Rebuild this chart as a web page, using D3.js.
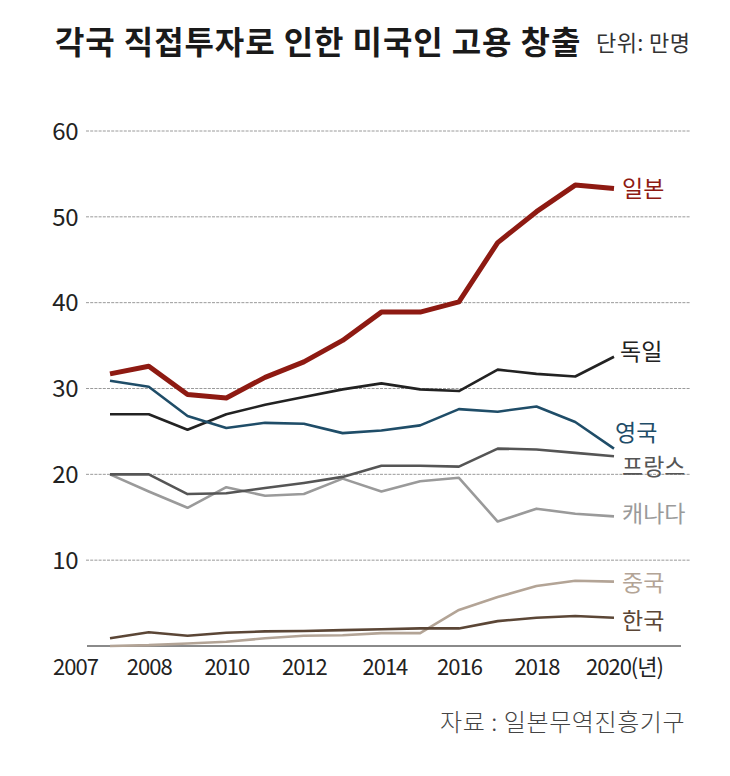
<!DOCTYPE html>
<html><head><meta charset="utf-8">
<script src="https://cdn.jsdelivr.net/npm/d3@7"></script>
<style>
body{margin:0;background:#fff;}
svg{display:block;font-family:"Noto Sans CJK KR","Noto Sans",sans-serif;}
</style></head>
<body>
<svg id="c" width="730" height="776"></svg>
<script>
const years = [2007,2008,2009,2010,2011,2012,2013,2014,2015,2016,2017,2018,2019,2020];
const japan   = [31.7,32.6,29.3,28.9,31.3,33.1,35.6,38.9,38.9,40.1,47.0,50.6,53.7,53.3];
const germany = [27.0,27.0,25.2,27.0,28.1,29.0,29.9,30.6,29.9,29.7,32.2,31.7,31.4,33.7];
const uk      = [30.9,30.2,26.8,25.4,26.0,25.9,24.8,25.1,25.7,27.6,27.3,27.9,26.1,23.0];
const france  = [20.0,20.0,17.7,17.8,18.4,19.0,19.7,21.0,21.0,20.9,23.0,22.9,22.5,22.1];
const canada  = [20.0,18.0,16.1,18.5,17.5,17.7,19.5,18.0,19.2,19.6,14.5,16.0,15.4,15.1];
const china   = [0.0,0.1,0.3,0.5,0.9,1.2,1.25,1.5,1.5,4.2,5.7,7.0,7.6,7.5];
const korea   = [0.9,1.6,1.2,1.55,1.7,1.75,1.85,1.95,2.05,2.05,2.9,3.3,3.5,3.3];
const seriesNames = ["일본","독일","영국","프랑스","캐나다","중국","한국"];
const yTicks = [10,20,30,40,50,60];
const xTicks = [2007,2008,2010,2012,2014,2016,2018,2020];
const titleText = "각국 직접투자로 인한 미국인 고용 창출";
const unitText = "단위: 만명";
const sourceText = "자료 : 일본무역진흥기구";

const series = [
  {name:seriesNames[0], values:japan,   color:"#8e1a12", width:5,   label:{dy:0,  dx:8}},
  {name:seriesNames[1], values:germany, color:"#222222", width:2.6, label:{dy:-5, dx:6}},
  {name:seriesNames[2], values:uk,      color:"#1f4d68", width:2.6, label:{dy:-16,dx:1}},
  {name:seriesNames[3], values:france,  color:"#555555", width:2.6, label:{dy:10, dx:8}},
  {name:seriesNames[4], values:canada,  color:"#9a9a9a", width:2.6, label:{dy:-3, dx:8}},
  {name:seriesNames[5], values:china,   color:"#b3a496", width:2.6, label:{dy:1,  dx:8}},
  {name:seriesNames[6], values:korea,   color:"#5b4636", width:2.6, label:{dy:3,  dx:8}}
];

const svg = d3.select("#c");
const x = d3.scaleLinear().domain([2007,2020]).range([110,614]);
const y = d3.scaleLinear().domain([0,60]).range([646,131]);

// title
svg.append("text").attr("x",55).attr("y",54).attr("font-size",32).attr("font-weight",700)
  .attr("fill","#1a1a1a").attr("letter-spacing",0.9).text(titleText);
svg.append("text").attr("x",596).attr("y",51).attr("font-size",22).attr("fill","#333")
  .attr("letter-spacing",0.4).text(unitText);

// grid lines
svg.append("g").selectAll("line").data(yTicks).join("line")
  .attr("x1",86).attr("x2",690).attr("y1",d=>y(d)).attr("y2",d=>y(d))
  .attr("stroke","#9a9a9a").attr("stroke-width",1).attr("stroke-dasharray","3,1.2");

// y axis labels
const yAxis = d3.axisLeft(y).tickValues(yTicks).tickSize(0).tickPadding(0);
const gy = svg.append("g").attr("transform","translate(78,0)").call(yAxis);
gy.select(".domain").remove();
gy.selectAll("text").attr("font-size",24).attr("fill","#222")
  .attr("font-family","'Noto Sans CJK KR',sans-serif").attr("letter-spacing",-0.5).attr("dy","0.34em");

// baseline
svg.append("line").attr("x1",87).attr("x2",681).attr("y1",y(0)).attr("y2",y(0))
  .attr("stroke","#8a8a8a").attr("stroke-width",2);

// x axis
const xAxis = d3.axisBottom(x).tickValues(xTicks).tickSize(0).tickPadding(0)
  .tickFormat(d=> d===2020 ? "2020(년)" : String(d));
const gx = svg.append("g").attr("transform","translate(0,"+(y(0)+14)+")").call(xAxis);
gx.select(".domain").remove();
gx.selectAll("text").attr("font-size",22).attr("fill","#222").attr("letter-spacing",-1.0)
  .attr("font-family","'Noto Sans CJK KR',sans-serif").attr("dy","0.7em")
  .attr("dx", d=> d===2007 ? -35 : d===2020 ? 10 : d===2014 ? 3 : 0);

// lines
const line = d3.line().x((d,i)=>x(years[i])).y(d=>y(d));
const drawOrder = [5,6,4,3,1,2,0];
const gl = svg.append("g");
drawOrder.forEach(k=>{
  const s = series[k];
  gl.append("path").datum(s.values).attr("d",line).attr("fill","none")
    .attr("stroke",s.color).attr("stroke-width",s.width)
    .attr("stroke-linejoin","round").attr("stroke-linecap","butt");
});

// labels
svg.append("g").selectAll("text").data(series).join("text")
  .attr("x",s=>x(2020)+s.label.dx)
  .attr("y",s=>y(s.values[s.values.length-1])+s.label.dy)
  .attr("dy","0.36em").attr("font-size",23).attr("fill",s=>s.color)
  .attr("letter-spacing",0).text(s=>s.name);

// source
svg.append("text").attr("x",440).attr("y",731).attr("font-size",24).attr("fill","#444")
  .attr("font-weight",300).attr("letter-spacing",0.6).text(sourceText);
</script>
</body></html>
